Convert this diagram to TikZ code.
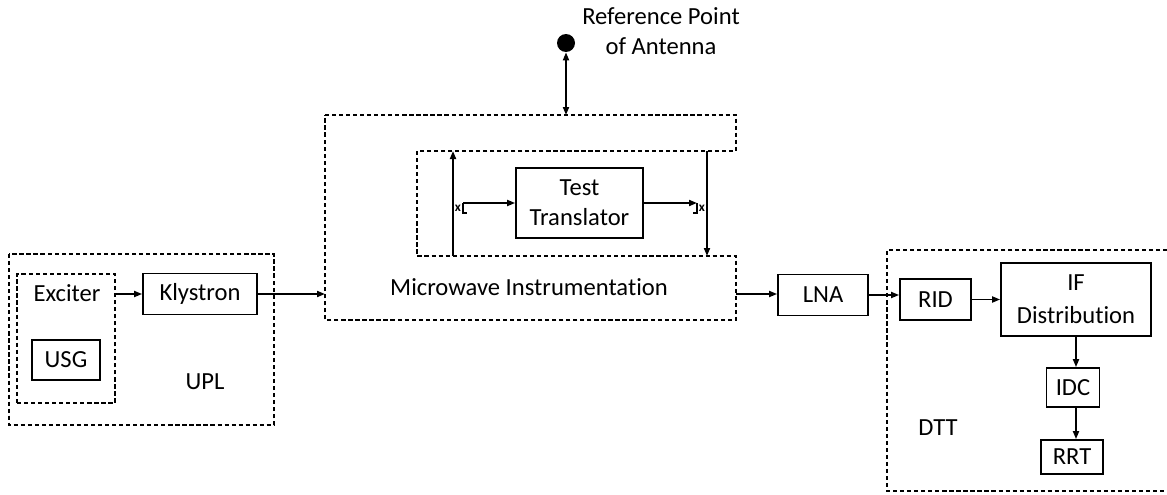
\documentclass[tikz,border=0pt]{standalone}
\usepackage{fontspec}
\setmainfont{Carlito}[Ligatures=NoCommon]
\usetikzlibrary{arrows.meta,positioning}
\tikzset{
  blk/.style={rectangle, draw=black, line width=1pt, inner sep=0pt, align=center},
  grp/.style={draw=black, line width=1pt, dash pattern=on 2.4pt off 1.6pt},
  lbl/.style={align=center, inner sep=0pt},
  flow/.style={-{Triangle[length=1.6mm,width=1.2mm]}, line width=1pt, draw=black},
  bidir/.style={flow, {Triangle[length=1.6mm,width=1.2mm]}-{Triangle[length=1.6mm,width=1.2mm]}},
  tick/.style={line width=1pt, draw=black},
  swx/.style={font=\fontsize{7.5}{7.5}\selectfont\bfseries, inner sep=0pt},
  refpt/.style={circle, fill=black, minimum size=0.36cm, inner sep=0pt},
}
\begin{document}
\begin{tikzpicture}[x=0.02cm, y=-0.02cm, font=\fontsize{14}{17}\selectfont]
  \useasboundingbox (0,0) rectangle (1167,494);
  \draw[grp] (9,254) rectangle (274,425);
  \node[grp, minimum width=1.96cm, minimum height=2.58cm] (exc) at (66,338.5) {};
  \node[lbl] (exctxt) at (67,293) {Exciter};
  \node[blk, minimum width=1.36cm, minimum height=0.8cm] (usg) at (66,360) {USG};
  \node[blk, minimum width=2.28cm, minimum height=0.82cm] (kly) at (200,294) {Klystron};
  \node[lbl] (upl) at (205,382) {UPL};
  \draw[flow] (kly.west -| exc.east) -- (kly.west);

  \draw[grp] (325,115) -- (736,115) -- (736,151) -- (417,151) -- (417,256)
    -- (736,256) -- (736,320) -- (325,320) -- cycle;
  \node[lbl] (mi) at (529,287) {Microwave Instrumentation};
  \coordinate (miin) at (325,294);
  \coordinate (miout) at (736,294);
  \coordinate (mitop) at (566,115);
  \draw[flow] (kly.east) -- (miin);

  \node[refpt] (ant) at (566,43) {};
  \node[lbl] (reftxt) at (661,31) {Reference Point\\of Antenna};
  \draw[bidir] (ant) -- (mitop);

  \node[blk, minimum width=2.54cm, minimum height=1.4cm] (tt) at (579.5,203) {Test\\Translator};
  \coordinate (lupb) at (453,256);
  \coordinate (lupt) at (453,151);
  \coordinate (rdnt) at (707,151);
  \coordinate (rdnb) at (707,256);
  \draw[flow] (lupb) -- (lupt);
  \draw[flow] (rdnt) -- (rdnb);
  \coordinate (swl) at (463,203);
  \coordinate (swr) at (697,203);
  \draw[flow] (swl) -- (tt.west);
  \draw[flow] (tt.east) -- (swr);
  \draw[tick] (swl) -- ++(0,10) -- ++(4,0);
  \draw[tick] (swr) -- ++(0,10) -- ++(-4,0);
  \node[swx] (xl) at (458,208) {x};
  \node[swx] (xr) at (702,208) {x};

  \node[blk, minimum width=1.8cm, minimum height=0.82cm] (lna) at (823,295) {LNA};
  \draw[flow] (miout) -- (miout -| lna.west);

  \draw[grp] (1167,250) -- (887,250) -- (887,491) -- (1167,491);
  \node[blk, minimum width=1.42cm, minimum height=0.82cm] (rid) at (935.5,299.5) {RID};
  \node[blk, minimum width=3cm, minimum height=1.46cm] (ifd) at (1076,299.5) {IF\\[2pt]Distribution};
  \node[blk, minimum width=1.06cm, minimum height=0.78cm] (idc) at (1073,387.5) {IDC};
  \node[blk, minimum width=1.24cm, minimum height=0.68cm] (rrt) at (1072,457) {RRT};
  \node[lbl] (dtt) at (938,428) {DTT};
  \draw[flow] (lna.east) -- (lna.east -| rid.west);
  \draw[flow] (rid.east) -- (rid.east -| ifd.west);
  \draw[flow] (ifd.south) -- (ifd.south |- idc.north);
  \draw[flow] (idc.south -| ifd.south) -- (rrt.north -| ifd.south);
\end{tikzpicture}
\end{document}
